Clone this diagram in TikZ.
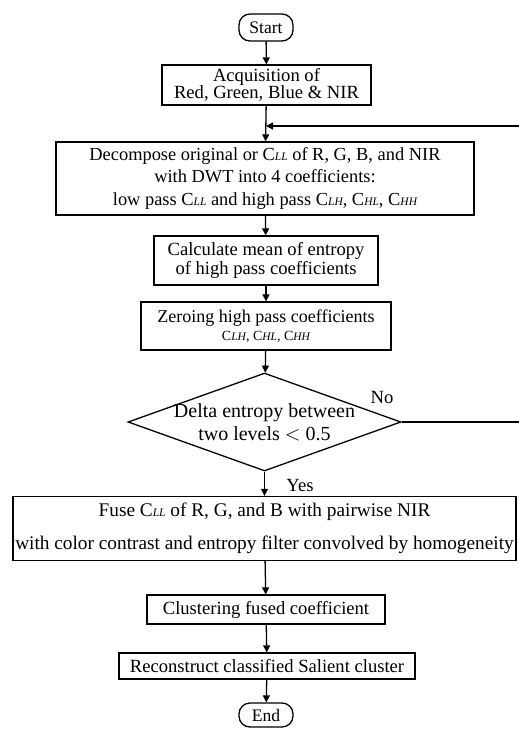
\documentclass[tikz,border=0pt]{standalone}
\usepackage{fontspec}
\setmainfont{Liberation Serif}
\usetikzlibrary{shapes.geometric,arrows.meta}
\newcommand{\Csub}[1]{C{\fontsize{11.5}{11.5}\selectfont\itshape #1}}
\begin{document}
\begin{tikzpicture}[x=1pt,y=-1pt,
  every node/.style={font=\fontsize{18.6}{17}\selectfont},
  box/.style={draw, line width=1.3pt, inner sep=0pt, align=center},
  term/.style={draw, line width=1.3pt, rounded corners=11pt, inner sep=0pt},
  arr/.style={line width=1.3pt, -{Triangle[length=7pt,width=7pt]}},
  ln/.style={line width=1.3pt}]
\useasboundingbox (0,0) rectangle (519,729);
\clip (0,0) rectangle (519,729);
\node[term, minimum width=54pt, minimum height=27pt, font=\fontsize{17.6}{17}\selectfont] (start) at (266,27.5) {Start};
\node[box, minimum width=209pt, minimum height=40pt] (acq) at (266.5,85) {Acquisition of\\Red, Green, Blue \& NIR};
\node[box, minimum width=418pt, minimum height=73pt, font=\fontsize{18.4}{22.5}\selectfont] (dec) at (265,178.5) {Decompose original or \Csub{LL} of R, G, B, and NIR\\with DWT into 4 coefficients:\\low pass \Csub{LL} and high pass \Csub{LH}, \Csub{HL}, \Csub{HH}};
\node[box, minimum width=224pt, minimum height=49pt] (calc) at (266,260.5) {Calculate mean of entropy\\of high pass coefficients};
\node[box, minimum width=250pt, minimum height=48pt, font=\fontsize{18}{18}\selectfont] (zero) at (266,326) {Zeroing high pass coefficients\\{\fontsize{14}{16}\selectfont\Csub{LH}, \Csub{HL}, \Csub{HH}}};
\node[draw, line width=1.3pt, diamond, shape aspect=2.79, minimum width=273pt, minimum height=98pt, inner sep=0pt,
  label={[align=center, font=\fontsize{20}{23}\selectfont]center:Delta entropy between\\two levels $<$ 0.5}] (dia) at (264.5,422) {};
\node[box, minimum width=503pt, minimum height=64pt, font=\fontsize{19.3}{20}\selectfont] (fuse) at (264.5,528.5) {Fuse \Csub{LL} of R, G, and B with pairwise NIR\\[13pt]with color contrast and entropy filter convolved by homogeneity};
\node[box, minimum width=238pt, minimum height=29pt] (clu) at (266,609.5) {Clustering fused coefficient};
\node[box, minimum width=296pt, minimum height=26pt] (rec) at (267,666) {Reconstruct classified Salient cluster};
\node[term, minimum width=54pt, minimum height=24pt, font=\fontsize{17.6}{17}\selectfont] (end) at (266,715) {End};
\node (no) at (382,397) {No};
\node (yes) at (300,485) {Yes};
\coordinate (fb) at (266,126);
\coordinate (r1) at (530,422);
\coordinate (r2) at (530,126);
\draw[arr] (start) -- (acq);
\draw[arr] (acq) -- (dec);
\draw[arr] (dec) -- (calc);
\draw[arr] (calc) -- (zero);
\draw[arr] (zero) -- (dia);
\draw[arr] (dia) -- (fuse);
\draw[arr] (fuse) -- (clu);
\draw[arr] (clu) -- (rec);
\draw[arr] (rec) -- (end);
\draw[ln] (dia.east) -- (r1) -- (r2);
\draw[arr] (r2) -- (fb);
\end{tikzpicture}
\end{document}
